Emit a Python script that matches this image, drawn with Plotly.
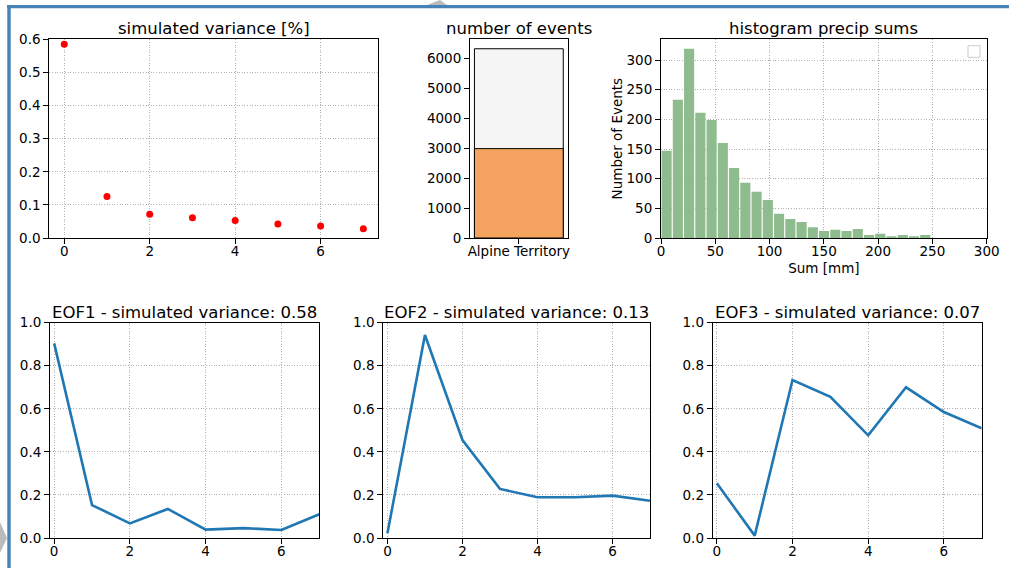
import numpy as np
import plotly.graph_objects as go

# ---------------- data ----------------
eof_index = [0, 1, 2, 3, 4, 5, 6, 7]
simulated_variance = [0.585, 0.125, 0.072, 0.061, 0.053, 0.042, 0.036, 0.028]

region = ["Alpine Territory"]
events_total = [6310]
events_selected = [2980]

hist_counts = [147, 233, 319, 211, 199, 160, 118, 93, 78, 64, 41, 32,
               27, 18, 12, 14, 12, 15, 5, 7, 3, 5, 3, 5]
hist_min, hist_max = 0.0, 248.6

eof1 = [0.904, 0.153, 0.068, 0.135, 0.039, 0.046, 0.037, 0.110]
eof2 = [0.022, 0.943, 0.455, 0.228, 0.189, 0.189, 0.197, 0.173]
eof3 = [0.254, 0.011, 0.734, 0.656, 0.477, 0.700, 0.585, 0.509]
eof_titles = ["EOF1 - simulated variance: 0.58",
              "EOF2 - simulated variance: 0.13",
              "EOF3 - simulated variance: 0.07"]

# ---------------- layout helpers ----------------
W, H = 1009, 568
FONT = "DejaVu Sans"
TICK = 13.5
TITLE = 16.5


def xd(a, b):
    return [a / W, b / W]


def yd(top, bottom):
    return [1 - bottom / H, 1 - top / H]


edges = np.linspace(hist_min, hist_max, len(hist_counts) + 1)
centers = (edges[:-1] + edges[1:]) / 2
bw = edges[1] - edges[0]

fig = go.Figure()

fig.add_trace(go.Scatter(x=eof_index, y=simulated_variance, mode="markers",
                         marker=dict(color="red", size=7, line=dict(width=0)), xaxis="x", yaxis="y",
                         showlegend=False, cliponaxis=False))

fig.add_trace(go.Bar(x=[0], y=events_total, width=0.8,
                     marker=dict(color="#f5f5f5", line=dict(color="black", width=1)),
                     xaxis="x2", yaxis="y2", showlegend=False))
fig.add_trace(go.Bar(x=[0], y=events_selected, width=0.8,
                     marker=dict(color="#f4a460", line=dict(color="black", width=1)),
                     xaxis="x2", yaxis="y2", showlegend=False))

fig.add_trace(go.Bar(x=centers, y=hist_counts, width=bw * 0.9, marker=dict(color="#8fbc8f", line=dict(width=0)),
                     xaxis="x3", yaxis="y3", showlegend=False))

for i, ys in enumerate([eof1, eof2, eof3]):
    fig.add_trace(go.Scatter(x=eof_index, y=ys, mode="lines", line=dict(color="#1f77b4", width=2.6),
                             xaxis=f"x{4 + i}", yaxis=f"y{4 + i}", showlegend=False))

common = dict(showline=True, mirror=True, linecolor="black", linewidth=1, ticks="outside",
              ticklen=5, tickwidth=1, tickcolor="black", zeroline=False, automargin=False,
              tickfont=dict(family=FONT, size=TICK, color="black"))
xcommon = dict(common, ticklabelstandoff=-4)
grid = dict(showgrid=True, gridcolor="#b0b0b0", gridwidth=0.8, griddash="1px,1.6px")
nogrid = dict(showgrid=False)

top = (39.3, 238)
bot = (322.7, 538)

layout = dict(
    template="none",
    width=W, height=H, margin=dict(l=0, r=0, t=0, b=0, pad=0),
    paper_bgcolor="white", plot_bgcolor="white",
    font=dict(family=FONT, color="black", size=TICK),
    barmode="overlay", showlegend=False,
    xaxis=dict(domain=xd(49.3, 378.3), anchor="y", range=[-0.35, 7.35], tickvals=[0, 2, 4, 6], **xcommon, **grid),
    yaxis=dict(domain=yd(*top), anchor="x", range=[0, 0.6], tickvals=[0, .1, .2, .3, .4, .5, .6],
               ticktext=["0.0", "0.1", "0.2", "0.3", "0.4", "0.5", "0.6"], **common, **grid),
    xaxis2=dict(domain=xd(470, 567.7), anchor="y2", range=[-0.44, 0.44], tickvals=[0], ticktext=region,
                **xcommon, **nogrid),
    yaxis2=dict(domain=yd(*top), anchor="x2", range=[0, 6625], tickvals=[0, 1000, 2000, 3000, 4000, 5000, 6000],
                **common, **nogrid),
    xaxis3=dict(domain=xd(661, 986.7), anchor="y3", range=[0, 300], tickvals=[0, 50, 100, 150, 200, 250, 300],
                title=dict(text="Sum [mm]", font=dict(family=FONT, size=TICK), standoff=5), **xcommon, **grid),
    yaxis3=dict(domain=yd(*top), anchor="x3", range=[0, 335], tickvals=[0, 50, 100, 150, 200, 250, 300],
                title=dict(text="Number of Events", font=dict(family=FONT, size=TICK), standoff=0),
                **common, **grid),
)
bxs = [(50, 319.3), (383.3, 650), (712.7, 981.7)]
for i, (a, b) in enumerate(bxs):
    n = 4 + i
    layout[f"xaxis{n}"] = dict(domain=xd(a, b), anchor=f"y{n}", range=[-0.11, 7], tickvals=[0, 2, 4, 6],
                               **xcommon, **grid)
    layout[f"yaxis{n}"] = dict(domain=yd(*bot), anchor=f"x{n}", range=[0, 1], tickvals=[0, .2, .4, .6, .8, 1],
                               ticktext=["0.0", "0.2", "0.4", "0.6", "0.8", "1.0"], **common, **grid)
fig.update_layout(**layout)

# titles
titles = [("simulated variance [%]", (49.3 + 378.3) / 2, 39.3),
          ("number of events", (470 + 567.7) / 2, 39.3),
          ("histogram precip sums", (661 + 986.7) / 2, 39.3)]
for i, (a, b) in enumerate(bxs):
    titles.append((eof_titles[i], (a + b) / 2, 322.7))
for text, cx, ty in titles:
    fig.add_annotation(text=text, x=cx / W, y=1 - (ty + 1) / H, xref="paper", yref="paper",
                       xanchor="center", yanchor="bottom", showarrow=False,
                       font=dict(family=FONT, size=TITLE, color="black"))

# empty legend box of the histogram
fig.add_shape(type="rect", x0=968 / W, x1=980 / W, y0=1 - 57.3 / H, y1=1 - 45.7 / H,
              xref="paper", yref="paper", line=dict(color="#cccccc", width=1), fillcolor="white")

# page frame (blue border) and watermark fragments
fig.add_shape(type="rect", x0=7 / W, x1=1.0, y0=1 - 8.3 / H, y1=1 - 5 / H, xref="paper", yref="paper",
              line=dict(width=0), fillcolor="#4682b4")
fig.add_shape(type="rect", x0=7.3 / W, x1=10.7 / W, y0=0, y1=1 - 5 / H, xref="paper", yref="paper",
              line=dict(width=0), fillcolor="#4682b4")
fig.add_shape(type="path", xref="paper", yref="paper",
              path=f"M 0 {1 - 522 / H} L {7 / W} {1 - 538 / H} L 0 {1 - 553 / H} Z",
              line=dict(width=0), fillcolor="#bbbbbb")
fig.add_shape(type="path", xref="paper", yref="paper",
              path=f"M {427 / W} {1 - 5 / H} L {447 / W} {1 - 5 / H} L {440 / W} {1 - 0 / H} Z",
              line=dict(width=0), fillcolor="#bbbbbb")

fig.write_html("out.html")
